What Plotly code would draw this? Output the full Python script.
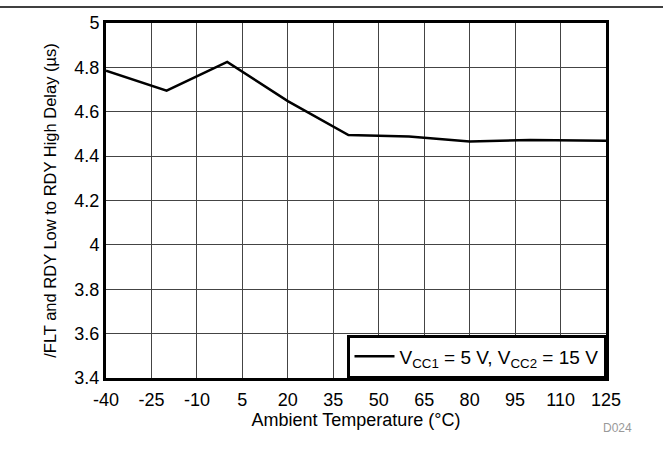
import plotly.graph_objects as go

temps = [-40, -20, 0, 20, 40, 60, 80, 100, 125]
delay = [4.785, 4.695, 4.825, 4.648, 4.495, 4.488, 4.466, 4.473, 4.469]
x_ticks = [-40, -25, -10, 5, 20, 35, 50, 65, 80, 95, 110, 125]
x_tick_text = ["-40", "-25", "-10", "5", "20", "35", "50", "65", "80", "95", "110", "125"]
y_ticks = [3.4, 3.6, 3.8, 4.0, 4.2, 4.4, 4.6, 4.8, 5.0]
y_tick_text = ["3.4", "3.6", "3.8", "4", "4.2", "4.4", "4.6", "4.8", "5"]

font = "Liberation Sans, Arial, sans-serif"

fig = go.Figure()
fig.add_trace(go.Scatter(
    x=temps, y=delay, mode="lines",
    line=dict(color="black", width=2.5),
    name="V<sub>CC1</sub> = 5 V, V<sub>CC2</sub> = 15 V",
))

fig.update_layout(
    width=663, height=455,
    margin=dict(l=106, r=57, t=23, b=77),
    paper_bgcolor="white", plot_bgcolor="white",
    font=dict(family=font, size=17, color="black"),
    showlegend=True,
    legend=dict(
        x=1.0, y=0.0, xanchor="right", yanchor="bottom",
        bgcolor="white", bordercolor="black", borderwidth=2.5,
        font=dict(size=19, family=font),
        itemwidth=40,
    ),
    xaxis=dict(
        range=[-40, 125], tickvals=x_ticks, ticktext=x_tick_text,
        showgrid=True, gridcolor="#444", gridwidth=1,
        showline=True, linecolor="black", linewidth=3, mirror=True,
        ticks="", zeroline=False, automargin=False,
        tickfont=dict(size=18), ticklabelstandoff=3,
        title=dict(text="Ambient Temperature (°C)", font=dict(size=18), standoff=4),
    ),
    yaxis=dict(
        range=[3.4, 5.0], tickvals=y_ticks, ticktext=y_tick_text,
        showgrid=True, gridcolor="#444", gridwidth=1,
        showline=True, linecolor="black", linewidth=3, mirror=True,
        ticks="", zeroline=False, automargin=False,
        tickfont=dict(size=18),
        title=dict(text="/FLT and RDY Low to RDY High Delay (µs)", font=dict(size=16.5), standoff=14),
    ),
    shapes=[dict(type="line", xref="paper", yref="paper",
                 x0=-106/500, x1=(663-106)/500, y0=(455-77-7)/355, y1=(455-77-7)/355,
                 line=dict(color="black", width=1.5))],
    annotations=[dict(text="D024", xref="paper", yref="paper",
                      x=(617-106)/500, y=-(428-378)/355, xanchor="center", yanchor="middle",
                      showarrow=False, font=dict(size=12, color="#999", family=font))],
)

fig.write_html("out.html", config={"displayModeBar": False},
               post_script="document.body.style.margin='0px';")
